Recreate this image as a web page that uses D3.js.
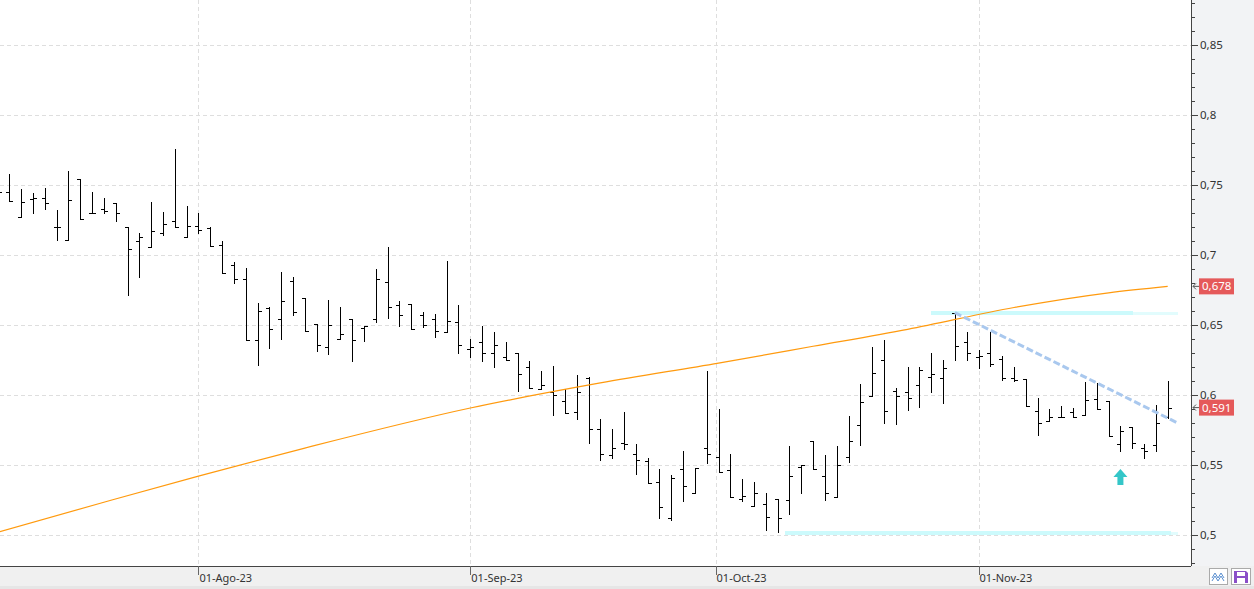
<!DOCTYPE html>
<html><head><meta charset="utf-8">
<script src="https://cdn.jsdelivr.net/npm/d3@7"></script>
<style>body{margin:0;background:#fff}svg{display:block}text{font-family:"Segoe UI","Noto Sans","Open Sans",sans-serif}</style>
</head><body>
<script>
const dates = ["07-07","07-10","07-11","07-12","07-13","07-14","07-17","07-18","07-19","07-20","07-21","07-24","07-25","07-26","07-27","07-28","07-31",
"08-01","08-02","08-03","08-04","08-07","08-08","08-09","08-10","08-11","08-14","08-15","08-16","08-17","08-18","08-21","08-22","08-23","08-24","08-25","08-28","08-29","08-30","08-31",
"09-01","09-04","09-05","09-06","09-07","09-08","09-11","09-12","09-13","09-14","09-15","09-18","09-19","09-20","09-21","09-22","09-25","09-26","09-27","09-28","09-29",
"10-02","10-03","10-04","10-05","10-06","10-09","10-10","10-11","10-12","10-13","10-16","10-17","10-18","10-19","10-20","10-23","10-24","10-25","10-26","10-27","10-30","10-31",
"11-01","11-02","11-03","11-06","11-07","11-08","11-09","11-10","11-13","11-14","11-15","11-16","11-17","11-20","11-21","11-22","11-23"];

const open = [0.748,0.7452,0.7274,0.7400,0.7405,0.7198,0.7107,0.7540,0.7298,0.7326,0.7371,0.7198,0.7100,0.7055,0.7155,0.7243,0.7126,
0.7205,0.7193,0.7070,0.6926,0.6826,0.6393,0.6619,0.6540,0.6816,0.6690,0.6505,0.6340,0.6398,0.6540,0.6479,0.6540,0.6807,0.6641,0.6648,0.6569,0.6540,0.6452,0.6519,
0.6329,0.6376,0.6300,0.6269,0.6298,0.6198,0.6041,0.6021,0.5959,0.5876,0.6121,0.5757,0.5571,0.5655,0.5576,0.5526,0.5376,0.5119,0.5469,0.5298,0.5619,
0.5560,0.5467,0.5255,0.5205,0.5221,0.5255,0.5248,0.5483,0.5674,0.5419,0.5274,0.5557,0.5783,0.5995,0.6248,0.6031,0.6021,0.6069,0.6126,0.6119,0.6583,0.6379,
0.6271,0.6300,0.6255,0.6119,0.6117,0.5883,0.5817,0.5845,0.5879,0.5855,0.5974,0.5955,0.5650,0.5774,0.5621,0.5641,0.5845];
const high = [0.752,0.7579,0.7471,0.7440,0.7476,0.7319,0.7600,0.7540,0.7450,0.7405,0.7371,0.7198,0.7155,0.7379,0.7307,0.7755,0.7350,
0.7300,0.7202,0.7100,0.6948,0.6907,0.6659,0.6626,0.6879,0.6845,0.6690,0.6505,0.6676,0.6629,0.6540,0.6493,0.6900,0.7060,0.6671,0.6648,0.6593,0.6576,0.6957,0.6641,
0.6398,0.6493,0.6448,0.6376,0.6298,0.6240,0.6171,0.6207,0.6041,0.6141,0.6126,0.5829,0.5757,0.5879,0.5650,0.5548,0.5471,0.5429,0.5600,0.5476,0.6171,
0.5900,0.5579,0.5400,0.5379,0.5300,0.5255,0.5636,0.5498,0.5674,0.5571,0.5636,0.5850,0.6079,0.6340,0.6393,0.6050,0.6200,0.6200,0.6300,0.6250,0.6588,0.6450,
0.6321,0.6448,0.6279,0.6198,0.6117,0.5979,0.5902,0.5921,0.5907,0.6095,0.6083,0.5955,0.5779,0.5774,0.5650,0.5929,0.6102];
const low = [0.743,0.7388,0.7274,0.7302,0.7326,0.7105,0.7107,0.7255,0.7298,0.7298,0.7240,0.6717,0.6845,0.7055,0.7140,0.7198,0.7126,
0.7155,0.7067,0.6874,0.6802,0.6391,0.6217,0.6338,0.6402,0.6574,0.6455,0.6317,0.6295,0.6398,0.6245,0.6388,0.6521,0.6550,0.6495,0.6469,0.6488,0.6417,0.6452,0.6302,
0.6269,0.6245,0.6202,0.6248,0.6026,0.6048,0.6041,0.5855,0.5871,0.5826,0.5655,0.5533,0.5548,0.5617,0.5433,0.5369,0.5124,0.5105,0.5245,0.5298,0.5517,
0.5448,0.5269,0.5245,0.5205,0.5033,0.5024,0.5148,0.5302,0.5469,0.5252,0.5274,0.5524,0.5645,0.5995,0.5802,0.5795,0.5895,0.5917,0.6019,0.5945,0.6250,0.6250,
0.6195,0.6205,0.6107,0.6102,0.5921,0.5717,0.5817,0.5845,0.5845,0.5855,0.5898,0.5707,0.5602,0.5621,0.5548,0.5602,0.5833];
const close = [0.745,0.7388,0.7376,0.7405,0.7371,0.7198,0.7390,0.7255,0.7298,0.7317,0.7300,0.7043,0.7126,0.7171,0.7220,0.7198,0.7205,
0.7176,0.7067,0.6874,0.6826,0.6391,0.6598,0.6469,0.6669,0.6590,0.6455,0.6355,0.6498,0.6438,0.6393,0.6493,0.6826,0.6626,0.6569,0.6469,0.6502,0.6457,0.6529,0.6355,
0.6340,0.6300,0.6357,0.6248,0.6148,0.6048,0.6069,0.5998,0.5871,0.6019,0.5757,0.5576,0.5621,0.5648,0.5533,0.5369,0.5200,0.5405,0.5350,0.5476,0.5576,
0.5448,0.5274,0.5276,0.5300,0.5129,0.5119,0.5421,0.5498,0.5469,0.5300,0.5500,0.5669,0.5948,0.6157,0.5883,0.5990,0.5976,0.6179,0.6150,0.6193,0.6348,0.6300,
0.6279,0.6219,0.6119,0.6107,0.5921,0.5798,0.5845,0.5845,0.5845,0.5964,0.5898,0.5707,0.5745,0.5655,0.5598,0.5802,0.5910];

// moving average read at selected sessions
const maDates  = ["07-07","07-20","08-01","08-14","09-01","09-18","10-02","10-12","10-24","11-06","11-16","11-23"];
const maValues = [0.5019,0.5234,0.5421,0.5621,0.5907,0.6086,0.6228,0.6348,0.6469,0.6625,0.6730,0.6776];

const xTickDates  = ["08-01","09-01","10-01","11-01"];
const xTickLabels = ["01-Ago-23","01-Sep-23","01-Oct-23","01-Nov-23"];
const yTicks      = [0.5,0.55,0.6,0.65,0.7,0.75,0.8,0.85];
const yTickLabels = ["0,5","0,55","0,6","0,65","0,7","0,75","0,8","0,85"];

// drawn annotations, in (session index, price)
const resistanceLine = {from: 79, to: 99.9, fadeFrom: 96.1, value: 0.6584};
const supportLine    = {from: 66.6, to: 99.9, fadeFrom: 99.3, value: 0.5011};
const trendLine      = {x1: 81, y1: 0.6588, x2: 99.8, y2: 0.5802};
const signalArrow    = {at: 95, tip: 0.5471, base: 0.5357};

const W = 1254, H = 589, plotR = 1191, plotB = 566;
const svg = d3.select("body").append("svg").attr("width", W).attr("height", H);

const x = d3.scalePoint().domain(dates).range([-2.5, 1167.7]);
const xi = d3.scaleLinear().domain([0, dates.length - 1]).range([x(dates[0]), x(dates[dates.length-1])]);
const y = d3.scaleLinear().domain([0.5, 0.85]).range([535, 45]);
const px = v => Math.round(v) + 0.5;
// calendar dates falling on a weekend sit just before the next session
const tickX = d => dates.includes(d) ? x(d) : xi(dates.findIndex(t => t > d) - 0.25);

// backgrounds
svg.append("rect").attr("x", plotR).attr("y", 0).attr("width", W - plotR).attr("height", plotB).attr("fill", "#f2f3f5");
svg.append("rect").attr("x", 0).attr("y", plotB).attr("width", W).attr("height", H - plotB).attr("fill", "#f0f0f0");
svg.append("rect").attr("x", 0).attr("y", 586).attr("width", W).attr("height", 3).attr("fill", "#e6e6e6");

const plot = svg.append("g").attr("shape-rendering", "crispEdges");
// gridlines
plot.selectAll("line.hg").data(yTicks).join("line")
  .attr("x1", 0).attr("x2", plotR).attr("y1", d => px(y(d))).attr("y2", d => px(y(d)))
  .attr("stroke", "#dedede").attr("stroke-dasharray", "4,3");
plot.selectAll("line.vg").data(xTickDates).join("line")
  .attr("x1", d => px(tickX(d))).attr("x2", d => px(tickX(d))).attr("y1", 0).attr("y2", plotB)
  .attr("stroke", "#dedede").attr("stroke-dasharray", "4,3");

// support / resistance bands
function hband(l){
  plot.append("line").attr("x1", xi(l.from)).attr("x2", xi(l.fadeFrom)).attr("y1", y(l.value)).attr("y2", y(l.value))
    .attr("stroke", "#ccfafc").attr("stroke-width", 4);
  plot.append("line").attr("x1", xi(l.fadeFrom)).attr("x2", xi(l.to)).attr("y1", y(l.value)).attr("y2", y(l.value))
    .attr("stroke", "#e2fcfd").attr("stroke-width", 3);
}
hband(resistanceLine);
hband(supportLine);

// moving average
svg.append("path").datum(maDates.map((d,i)=>[d, maValues[i]]))
  .attr("fill", "none").attr("stroke", "#ff9a0e").attr("stroke-width", 1.2)
  .attr("d", d3.line().x(d => x(d[0])).y(d => y(d[1])).curve(d3.curveMonotoneX));

// OHLC bars
const bars = plot.append("g").attr("stroke", "#000").attr("stroke-width", 1);
dates.forEach((d, i) => {
  const cx = px(x(d));
  bars.append("line").attr("x1", cx).attr("x2", cx).attr("y1", Math.round(y(high[i]))).attr("y2", Math.round(y(low[i])) + 1);
  bars.append("line").attr("x1", cx - 3.5).attr("x2", cx).attr("y1", px(y(open[i]))).attr("y2", px(y(open[i])));
  bars.append("line").attr("x1", cx).attr("x2", cx + 3.5).attr("y1", px(y(close[i]))).attr("y2", px(y(close[i])));
});

// trend line
svg.append("line").attr("x1", xi(trendLine.x1)).attr("y1", y(trendLine.y1)).attr("x2", xi(trendLine.x2)).attr("y2", y(trendLine.y2))
  .attr("stroke", "#a9c8ee").attr("stroke-width", 3).attr("stroke-dasharray", "7,3");

// arrow
{
  const ax = xi(signalArrow.at), ty = y(signalArrow.tip), by = y(signalArrow.base);
  const hy = ty + 8;
  svg.append("path").attr("fill", "#34c6c8")
    .attr("d", `M${ax},${ty} L${ax+7},${hy} L${ax+3},${hy} L${ax+3},${by} L${ax-3},${by} L${ax-3},${hy} L${ax-7},${hy} Z`);
}

// y axis
const ax = svg.append("g").attr("shape-rendering", "crispEdges");
ax.append("line").attr("x1", plotR + 0.5).attr("x2", plotR + 0.5).attr("y1", 0).attr("y2", plotB).attr("stroke", "#444");
const minor = d3.range(48, 89).map(v => v / 100);
ax.selectAll("line.mn").data(minor).join("line")
  .attr("x1", plotR).attr("x2", d => plotR + (yTicks.some(t => Math.abs(t - d) < 1e-9) ? 7 : 4))
  .attr("y1", d => px(y(d))).attr("y2", d => px(y(d))).attr("stroke", "#444");
svg.selectAll("text.yl").data(yTicks).join("text")
  .attr("x", 1200).attr("y", d => y(d)).attr("dy", "0.35em")
  .attr("font-size", 11.5).attr("fill", "#333").text((d, i) => yTickLabels[i]);

// bottom axis
ax.append("line").attr("x1", 0).attr("x2", plotR).attr("y1", plotB + 0.5).attr("y2", plotB + 0.5).attr("stroke", "#444");
ax.selectAll("line.xt").data(xTickDates).join("line")
  .attr("x1", d => px(tickX(d))).attr("x2", d => px(tickX(d))).attr("y1", plotB).attr("y2", plotB + 9).attr("stroke", "#666");
svg.selectAll("text.xl").data(xTickDates).join("text")
  .attr("x", d => tickX(d) + 1).attr("y", 578).attr("dy", "0.35em")
  .attr("font-size", 11).attr("fill", "#333").text((d, i) => xTickLabels[i]);

// last-value labels
const fmt = v => d3.format(".3f")(v).replace(".", ",");
const lastLabels = [maValues[maValues.length-1], close[close.length-1]];
lastLabels.forEach(v => {
  const cy = y(v);
  svg.append("rect").attr("x", 1199).attr("y", cy - 8).attr("width", 35).attr("height", 16).attr("fill", "#e5595a");
  svg.append("text").attr("x", 1202).attr("y", cy).attr("dy", "0.35em").attr("font-size", 11.5).attr("fill", "#fff").text(fmt(v));
  svg.append("path").attr("fill", "none").attr("stroke", "#555").attr("stroke-width", 1)
    .attr("d", `M${plotR+5},${cy-3} L${plotR+2},${cy} L${plotR+5},${cy+3} M${plotR+2},${cy} L${plotR+8},${cy}`);
});

// toolbar icons
const ic = svg.append("g");
ic.append("rect").attr("x", 1209.5).attr("y", 568.5).attr("width", 18).attr("height", 16).attr("fill", "#fff").attr("stroke", "#aaa");
ic.append("path").attr("fill", "none").attr("stroke", "#5a8fd0").attr("stroke-width", 1)
  .attr("d", "M1212,578 L1215,573 L1218,578 L1221,573 L1224,578 M1212,581 L1215,576 L1218,581 L1221,576 L1224,581");
ic.append("rect").attr("x", 1231.5).attr("y", 568.5).attr("width", 19).attr("height", 16).attr("fill", "#fff").attr("stroke", "#aaa");
ic.append("path").attr("fill", "#8a4fc8")
  .attr("d", "M1234,571 h12 l2,2 v10 h-14 Z");
ic.append("rect").attr("x", 1237).attr("y", 572).attr("width", 8).attr("height", 4).attr("fill", "#fff");
ic.append("rect").attr("x", 1237).attr("y", 578).attr("width", 8).attr("height", 5).attr("fill", "#fff");
</script>
</body></html>
